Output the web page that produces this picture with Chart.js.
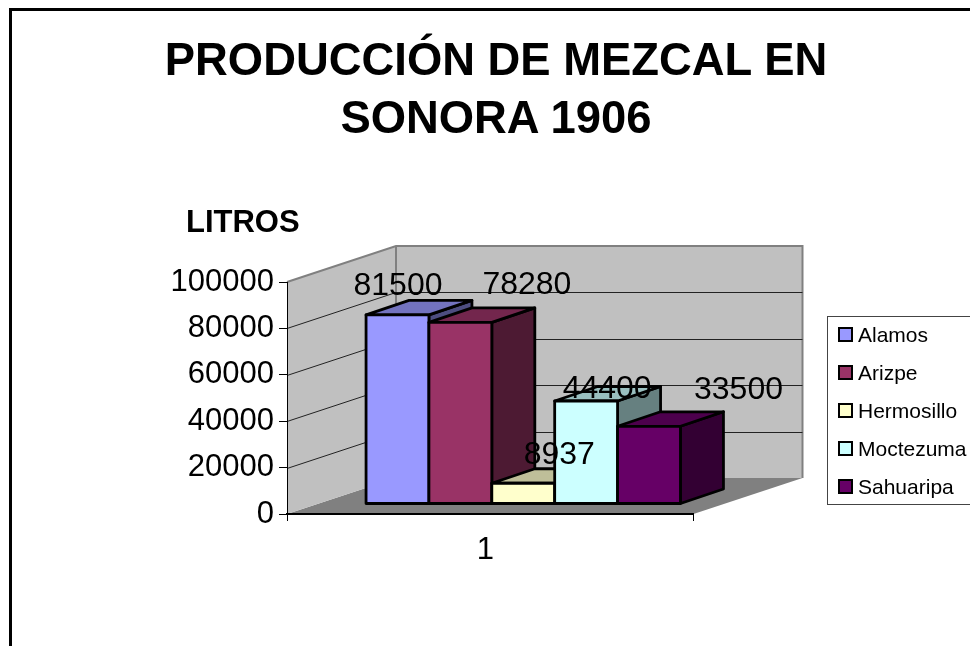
<!DOCTYPE html>
<html>
<head>
<meta charset="utf-8">
<title>Producción de mezcal en Sonora 1906</title>
<script src="https://cdn.jsdelivr.net/npm/chart.js@4/dist/chart.umd.min.js"></script>
<style>
  html, body { margin: 0; padding: 0; background: #fff; }
  #page { position: relative; width: 970px; height: 646px; overflow: hidden; font-family: "Liberation Sans", Arial, sans-serif; color: #000; }
  #frame { position: absolute; left: 9px; top: 8px; width: 970px; height: 650px; border-left: 3px solid #000; border-top: 3px solid #000; }
  canvas { position: absolute; left: 0; top: 0; }
  #title { position: absolute; left: 96px; width: 800px; top: 31px; margin: 0; text-align: center; font-size: 45.4px; line-height: 58px; font-weight: bold; }
  #unit { position: absolute; left: 186px; top: 204px; font-size: 31px; line-height: 36px; font-weight: bold; }
  #legend { position: absolute; left: 827px; top: 316px; width: 170px; height: 187px; border: 1px solid #444; box-sizing: content-box; }
  #legend div { position: absolute; left: 30px; font-size: 21px; line-height: 26px; white-space: nowrap; }
  #legend i { position: absolute; left: -20px; top: 5px; width: 11px; height: 11px; border: 2px solid #000; }
</style>
</head>
<body>
<div id="page">
  <div id="frame"></div>
  <canvas id="chart" width="970" height="646"></canvas>
  <h1 id="title">PRODUCCIÓN DE MEZCAL EN<br>SONORA 1906</h1>
  <div id="unit">LITROS</div>
  <div id="legend"></div>
</div>
<script>
const categories = ['1'];
const alamos = [81500];
const arizpe = [78280];
const hermosillo = [8937];
const moctezuma = [44400];
const sahuaripa = [33500];
const yTicks = [0, 20000, 40000, 60000, 80000, 100000];
const wallLines = [20000, 40000, 60000, 80000];

const seriesNames = ['Alamos', 'Arizpe', 'Hermosillo', 'Moctezuma', 'Sahuaripa'];
const seriesValues = [alamos, arizpe, hermosillo, moctezuma, sahuaripa];
const seriesColors = ['#9999ff', '#993366', '#ffffcc', '#ccffff', '#660066'];

// profundidad de la caja y de las barras, en pixeles
const box = { dx: 109, dy: -36 };
const barShift = { dx: 33, dy: -10 };
const barDepth = { dx: 43, dy: -14.5 };
// las etiquetas del original estan colocadas a mano
const labelShift = [[0.5, -31], [66.5, -39], [36, -30], [21, -14], [89.5, -38.5]];

function shade(hex, f) {
  const n = parseInt(hex.slice(1), 16);
  const r = Math.round((n >> 16 & 255) * f);
  const g = Math.round((n >> 8 & 255) * f);
  const b = Math.round((n & 255) * f);
  return `rgb(${r},${g},${b})`;
}

function poly(ctx, pts, fill, stroke, lw) {
  ctx.beginPath();
  pts.forEach((p, i) => (i ? ctx.lineTo(p[0], p[1]) : ctx.moveTo(p[0], p[1])));
  ctx.closePath();
  if (fill) { ctx.fillStyle = fill; ctx.fill(); }
  if (stroke) { ctx.strokeStyle = stroke; ctx.lineWidth = lw; ctx.stroke(); }
}

const box3d = {
  id: 'box3d',
  beforeDraw(chart) {
    const { ctx, chartArea: a, scales } = chart;
    const bx = box.dx, by = box.dy;
    ctx.save();
    // piso, pared izquierda y pared del fondo
    poly(ctx, [[a.left, a.bottom], [a.left + bx, a.bottom + by], [a.right + bx, a.bottom + by], [a.right, a.bottom]], '#808080');
    poly(ctx, [[a.left, a.top], [a.left + bx, a.top + by], [a.left + bx, a.bottom + by], [a.left, a.bottom]], '#c0c0c0');
    poly(ctx, [[a.left + bx, a.top + by], [a.right + bx, a.top + by], [a.right + bx, a.bottom + by], [a.left + bx, a.bottom + by]], '#c0c0c0');
    ctx.strokeStyle = '#808080';
    ctx.lineWidth = 2;
    ctx.beginPath();
    ctx.moveTo(a.left, a.top);
    ctx.lineTo(a.left + bx, a.top + by);
    ctx.lineTo(a.right + bx, a.top + by);
    ctx.lineTo(a.right + bx, a.bottom + by);
    ctx.moveTo(a.left + bx, a.top + by);
    ctx.lineTo(a.left + bx, a.bottom + by);
    ctx.stroke();
    ctx.strokeStyle = '#222';
    ctx.lineWidth = 1;
    ctx.beginPath();
    wallLines.forEach(v => {
      const y = Math.round(scales.y.getPixelForValue(v)) + 0.5;
      ctx.moveTo(a.left, y);
      ctx.lineTo(a.left + bx, y + by);
      ctx.lineTo(a.right + bx, y + by);
    });
    ctx.stroke();
    ctx.restore();
  },
  beforeDatasetsDraw(chart) {
    const { ctx } = chart;
    const dx = barDepth.dx, dy = barDepth.dy;
    ctx.save();
    ctx.translate(barShift.dx, barShift.dy);
    ctx.lineJoin = 'round';
    seriesNames.forEach((name, i) => {
      const bar = chart.getDatasetMeta(i).data[0];
      const p = bar.getProps(['x', 'y', 'base', 'width']);
      const x0 = p.x - p.width / 2, x1 = p.x + p.width / 2;
      const col = seriesColors[i];
      poly(ctx, [[x1, p.y], [x1 + dx, p.y + dy], [x1 + dx, p.base + dy], [x1, p.base]], shade(col, 0.5), '#000', 2.8);
      poly(ctx, [[x0, p.y], [x0 + dx, p.y + dy], [x1 + dx, p.y + dy], [x1, p.y]], shade(col, 0.75), '#000', 2.8);
      bar.draw(ctx);
      poly(ctx, [[x0, p.y], [x1, p.y], [x1, p.base], [x0, p.base]], null, '#000', 2.8);
    });
    ctx.restore();
    // etiquetas de valor
    ctx.save();
    ctx.font = '32px "Liberation Sans"';
    ctx.fillStyle = '#000';
    ctx.textAlign = 'center';
    ctx.textBaseline = 'middle';
    seriesValues.forEach((vals, i) => {
      const bar = chart.getDatasetMeta(i).data[0];
      const p = bar.getProps(['x', 'y']);
      ctx.fillText(String(vals[0]), p.x + barShift.dx + labelShift[i][0], p.y + barShift.dy + labelShift[i][1] + 2);
    });
    ctx.restore();
    return false; // ya dibujamos todo aqui
  }
};

new Chart(document.getElementById('chart'), {
  type: 'bar',
  data: {
    labels: categories,
    datasets: seriesNames.map((name, i) => ({
      label: name,
      data: seriesValues[i],
      backgroundColor: seriesColors[i],
      borderWidth: 0,
      barPercentage: 1,
      categoryPercentage: 0.7734
    }))
  },
  options: {
    responsive: false,
    animation: false,
    layout: { padding: { left: 0, top: 282, right: 276.5, bottom: 62 } },
    plugins: { legend: { display: false }, title: { display: false }, tooltip: { enabled: false } },
    scales: {
      x: {
        afterFit: s => { s.height = 70; },
        border: { color: '#000', width: 2 },
        grid: { color: '#000', drawOnChartArea: false, tickLength: 7 },
        ticks: { color: '#000', padding: 11, labelOffset: -5, font: { family: 'Liberation Sans', size: 31 } }
      },
      y: {
        min: 0,
        max: 100000,
        afterFit: s => { s.width = 287; },
        afterBuildTicks: s => { s.ticks = yTicks.map(v => ({ value: v })); },
        border: { color: '#000', width: 1 },
        grid: { color: '#000', drawOnChartArea: false, tickLength: 8 },
        ticks: { color: '#000', padding: 5, font: { family: 'Liberation Sans', size: 31 }, callback: v => String(v) }
      }
    }
  },
  plugins: [box3d]
});

// leyenda
const legendBox = document.getElementById('legend');
seriesNames.forEach((name, i) => {
  const row = document.createElement('div');
  row.style.top = (5 + i * 38) + 'px';
  row.textContent = name;
  const mark = document.createElement('i');
  mark.style.background = seriesColors[i];
  row.appendChild(mark);
  legendBox.appendChild(row);
});
</script>
</body>
</html>
